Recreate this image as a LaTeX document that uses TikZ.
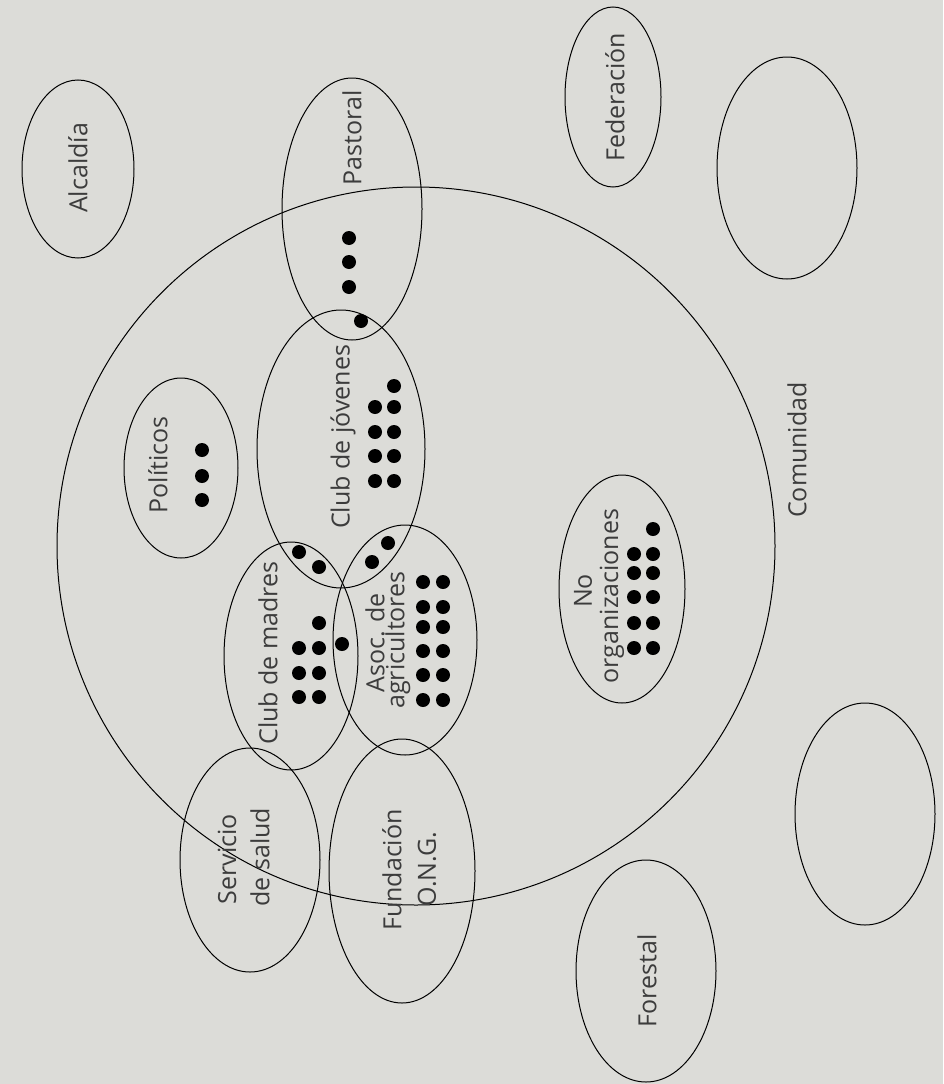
\documentclass[tikz,border=0pt]{standalone}
\usepackage{fontspec}
\setmainfont{Open Sans}
\usetikzlibrary{shapes.geometric}
\definecolor{paper}{RGB}{220,220,216}
\definecolor{ink}{RGB}{60,60,60}
\tikzset{
  ell/.style={ellipse, draw=black, line width=1pt, inner sep=0pt},
  lbl/.style={rotate=90, text=ink, inner sep=0pt, font=\fontsize{25}{27}\selectfont},
  dotmark/.style={circle, fill=black, inner sep=0pt, minimum size=14pt},
}
\begin{document}
\begin{tikzpicture}[x=1pt,y=-1pt]
\fill[paper] (0,0) rectangle (943,1084);
\useasboundingbox (0,0) rectangle (943,1084);
% community circle
\node[circle, draw=black, line width=1pt, inner sep=0pt, minimum size=718pt] (com) at (416,546) {};
% ellipses
\node[ell, minimum width=112pt, minimum height=178pt] (alc) at (78,169) {};
\node[ell, minimum width=140pt, minimum height=262pt] (pas) at (352,209) {};
\node[ell, minimum width=96pt, minimum height=180pt] (fed) at (613,97) {};
\node[ell, minimum width=140pt, minimum height=222pt] (e1) at (787,168) {};
\node[ell, minimum width=114pt, minimum height=180pt] (pol) at (181,468) {};
\node[ell, minimum width=168pt, minimum height=278pt] (jov) at (341,449) {};
\node[ell, minimum width=134pt, minimum height=228pt] (mad) at (291,656) {};
\node[ell, minimum width=144pt, minimum height=230pt] (agr) at (405,640) {};
\node[ell, minimum width=126pt, minimum height=228pt] (nor) at (622,589) {};
\node[ell, minimum width=140pt, minimum height=224pt] (sal) at (250,860) {};
\node[ell, minimum width=146pt, minimum height=264pt] (fun) at (402,871) {};
\node[ell, minimum width=140pt, minimum height=222pt] (e2) at (865,814) {};
\node[ell, minimum width=140pt, minimum height=222pt] (for) at (646,971) {};
% labels
\node[lbl] (lalc) at (78,168) {Alcaldía};
\node[lbl] (lpas) at (352,138) {Pastoral};
\node[lbl] (lfed) at (615,97) {Federación};
\node[lbl] (lpol) at (158,465) {Políticos};
\node[lbl] (ljov) at (343,437) {Club de jóvenes};
\node[lbl] (lmad) at (268,653) {Club de madres};
\node[lbl] (lagr1) at (375,643) {Asoc. de};
\node[lbl] (lagr2) at (398,640) {agricultores};
\node[lbl] (lnor1) at (583,591) {No};
\node[lbl] (lnor2) at (612,596) {organizaciones};
\node[lbl] (lsal1) at (227,859) {Servicio};
\node[lbl] (lsal2) at (260,857) {de salud};
\node[lbl] (lfun1) at (392,870) {Fundación};
\node[lbl] (lfun2) at (427,869) {O.N.G.};
\node[lbl] (lfor) at (647,981) {Forestal};
\node[lbl] (lcom) at (797,450) {Comunidad};
% dots
\foreach \p in {(349,238),(349,262),(349,287),(361,321),
  (394,386),(375,407),(394,407),(375,432),(394,432),(375,456),(394,456),(375,481),(394,481),
  (299,552),(319,567),(372,562),(388,543),
  (319,623),(299,648),(319,648),(299,673),(319,673),(299,697),(319,697),(342,644),
  (423,582),(443,582),(423,607),(443,607),(423,627),(443,627),(423,651),(443,651),(423,675),(443,675),(423,700),(443,700),
  (653,529),(634,554),(653,554),(634,573),(653,573),(634,597),(653,597),(634,623),(653,623),(634,648),(653,648),
  (202,450),(202,476),(202,500)}
  \node[dotmark] at \p {};
\end{tikzpicture}
\end{document}
